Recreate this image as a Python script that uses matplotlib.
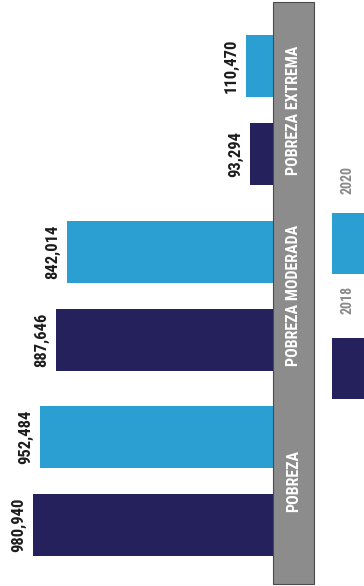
import matplotlib
matplotlib.use("Agg")
import matplotlib.pyplot as plt
from matplotlib import font_manager
from matplotlib.patches import Rectangle
from matplotlib.transforms import blended_transform_factory
import numpy as np

# data
categorias = ["POBREZA EXTREMA", "POBREZA MODERADA", "POBREZA"]
anios = ["2020", "2018"]
valores_2020 = [110470, 842014, 952484]
valores_2018 = [93294, 887646, 980940]

colores = {"2020": "#2c9fd2", "2018": "#24215c"}

# narrow font if there is one, else plain DejaVu a bit smaller
instaladas = {f.name for f in font_manager.fontManager.ttflist}
angosta = next((n for n in ["Liberation Sans Narrow", "Roboto Condensed",
                            "Open Sans Condensed", "DejaVu Sans Condensed"]
                if n in instaladas), None)
if angosta:
    fuente = [angosta, "DejaVu Sans"]
    tam_val, tam_cat, tam_ley = 12, 11.5, 10
else:
    fuente = ["DejaVu Sans"]
    tam_val, tam_cat, tam_ley = 9.5, 8.6, 7.5

W, H = 364, 586
fig = plt.figure(figsize=(W / 100, H / 100), dpi=100)

# bars grow to the left from the gray band
base_px = 273
ax = fig.add_axes([0, 0, base_px / W, 1])
px_per_unit = 240 / max(valores_2018 + valores_2020)
ax.set_xlim(base_px / px_per_unit, 0)

paso = 185.5  # px between groups
ax.set_ylim((H - 110) / paso, -110 / paso)
off = 44 / paso
alto = 62 / paso

y = np.arange(len(categorias))
b20 = ax.barh(y - off, valores_2020, height=alto, color=colores["2020"])
b18 = ax.barh(y + off, valores_2018, height=alto, color=colores["2018"])

for barras, vals in [(b20, valores_2020), (b18, valores_2018)]:
    for b, v in zip(barras, vals):
        ax.annotate(f"{v:,}", (v, b.get_y() + b.get_height() / 2),
                    xytext=(-5, 0), textcoords="offset points",
                    rotation=90, ha="right", va="center",
                    fontsize=tam_val, fontweight="bold", color="#1c1c1c",
                    family=fuente)
ax.axis("off")

# gray band with category labels
fig.patches.append(Rectangle((273 / W, 2 / H), 41 / W, 582 / H,
                             transform=fig.transFigure, facecolor="#8c8c8c",
                             edgecolor="#4a4a4a", lw=0.8, zorder=0))
tr = blended_transform_factory(fig.transFigure, ax.transData)
for i, cat in enumerate(categorias):
    fig.text(294 / W, i, cat, transform=tr, rotation=90, ha="center",
             va="center", color="white", fontsize=tam_cat, fontweight="bold",
             family=fuente)

# legend
for anio, y0, yt in [("2020", 213, 180), ("2018", 338, 300)]:
    fig.patches.append(Rectangle((332 / W, 1 - (y0 + 61) / H), 40 / W, 61 / H,
                                 transform=fig.transFigure,
                                 facecolor=colores[anio], edgecolor="none"))
    fig.text(347 / W, 1 - yt / H, anio, rotation=90, ha="center", va="center",
             color="#8a8a8a", fontsize=tam_ley, fontweight="bold", family=fuente)

fig.savefig("out.png", dpi=100, facecolor="white")
